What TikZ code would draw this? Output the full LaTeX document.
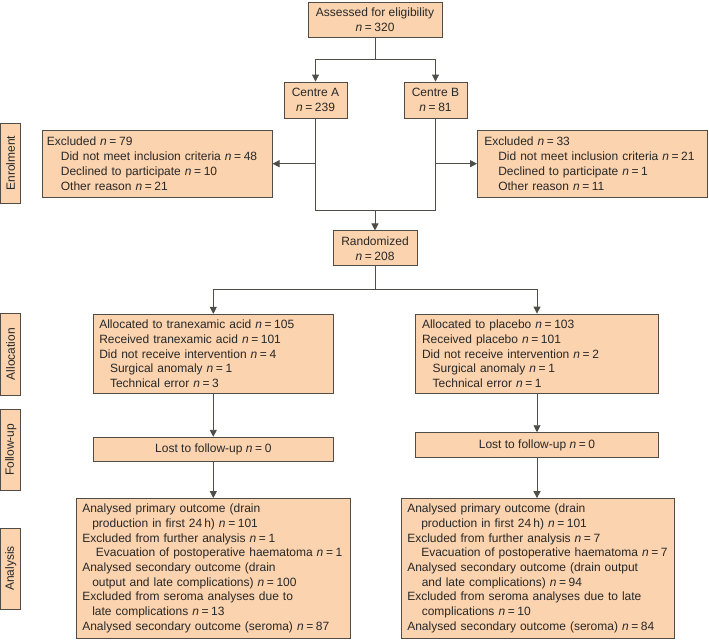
\documentclass[tikz,border=0pt]{standalone}
\usepackage{fontspec}
\setmainfont{Liberation Sans}
\usetikzlibrary{arrows.meta}
\definecolor{peach}{RGB}{251,211,174}
\definecolor{edgecol}{RGB}{80,76,72}
\definecolor{inkcol}{RGB}{40,40,40}
\newcommand{\nval}[1]{\textit{n}\hspace{2.6pt}=\hspace{2.6pt}#1}
\begin{document}
\begin{tikzpicture}[x=1pt,y=-1pt,
  box/.style={draw=edgecol, fill=peach, line width=0.9pt, text=inkcol, inner sep=0pt, font=\fontsize{12}{14.7}\selectfont},
  cbox/.style={box, align=center},
  lbox/.style={box, align=left},
  stage/.style={box, rotate=90, minimum height=20pt, align=center},
  conn/.style={draw=edgecol, line width=0.9pt},
  arr/.style={conn, -{Triangle[width=7pt,length=7pt]}}
]
\useasboundingbox (0,0) rectangle (709,640);

% stage labels
\node[stage, minimum width=80.7pt] (lEn) at (10.7,163.3) {Enrolment};
\node[stage, minimum width=82pt] (lAl) at (10.7,354) {Allocation};
\node[stage, minimum width=81.7pt] (lFu) at (10.7,449.8) {Follow-up};
\node[stage, minimum width=81pt] (lAn) at (10.7,568.5) {Analysis};

% enrolment
\node[cbox, minimum width=134pt, minimum height=35pt] (assess) at (375,19.5) {Assessed for eligibility\\\nval{320}};
\node[cbox, minimum width=63pt, minimum height=36pt] (cA) at (315.5,100) {Centre A\\\nval{239}};
\node[cbox, minimum width=63pt, minimum height=36pt] (cB) at (435.5,100) {Centre B\\\nval{81}};
\node[lbox, text width=220.7pt, inner xsep=4.5pt, minimum height=67.3pt] (exA) at (157.2,163.7)
 {Excluded \nval{79}\\
  \hspace*{14pt}Did not meet inclusion criteria \nval{48}\\
  \hspace*{14pt}Declined to participate \nval{10}\\
  \hspace*{14pt}Other reason \nval{21}};
\node[lbox, text width=216.4pt, inner xsep=6.8pt, minimum height=67.3pt] (exB) at (592.5,163.7)
 {Excluded \nval{33}\\
  \hspace*{14pt}Did not meet inclusion criteria \nval{21}\\
  \hspace*{14pt}Declined to participate \nval{1}\\
  \hspace*{14pt}Other reason \nval{11}};
\node[cbox, minimum width=84pt, minimum height=35pt] (rand) at (375,248.4) {Randomized\\\nval{208}};

% allocation
\node[lbox, text width=228pt, inner xsep=6pt, minimum height=79pt] (alA) at (213.3,353.8)
 {Allocated to tranexamic acid \nval{105}\\
  Received tranexamic acid \nval{101}\\
  Did not receive intervention \nval{4}\\
  \hspace*{10.7pt}Surgical anomaly \nval{1}\\
  \hspace*{10.7pt}Technical error \nval{3}};
\node[lbox, text width=230pt, inner xsep=6.3pt, minimum height=79.7pt] (alB) at (537,353.9)
 {Allocated to placebo \nval{103}\\
  Received placebo \nval{101}\\
  Did not receive intervention \nval{2}\\
  \hspace*{10.7pt}Surgical anomaly \nval{1}\\
  \hspace*{10.7pt}Technical error \nval{1}};

% follow-up
\node[cbox, minimum width=240pt, minimum height=24.5pt] (fuA) at (213.3,449.5) {Lost to follow-up \nval{0}};
\node[cbox, minimum width=242.6pt, minimum height=24.6pt] (fuB) at (537,445) {Lost to follow-up \nval{0}};

% analysis
\node[lbox, text width=262.1pt, inner xsep=5.6pt, minimum height=139.5pt] (anA) at (213.3,568.3)
 {Analysed primary outcome (drain\\
  \hspace*{10pt}production in first 24\,h) \nval{101}\\
  Excluded from further analysis \nval{1}\\
  \hspace*{13.7pt}Evacuation of postoperative haematoma \nval{1}\\
  Analysed secondary outcome (drain\\
  \hspace*{10pt}output and late complications) \nval{100}\\
  Excluded from seroma analyses due to\\
  \hspace*{10pt}late complications \nval{13}\\
  Analysed secondary outcome (seroma) \nval{87}};
\node[lbox, text width=260.7pt, inner xsep=6.3pt, minimum height=139.5pt] (anB) at (537.65,568.3)
 {Analysed primary outcome (drain\\
  \hspace*{14pt}production in first 24\,h) \nval{101}\\
  Excluded from further analysis \nval{7}\\
  \hspace*{14pt}Evacuation of postoperative haematoma \nval{7}\\
  Analysed secondary outcome (drain output\\
  \hspace*{14.5pt}and late complications) \nval{94}\\
  Excluded from seroma analyses due to late\\
  \hspace*{14.5pt}complications \nval{10}\\
  Analysed secondary outcome (seroma) \nval{84}};

% connectors
\coordinate (s1) at (375,59.3);
\draw[conn] (assess.south) -- (s1);
\draw[arr] (s1) -| (cA.north);
\draw[arr] (s1) -| (cB.north);
\coordinate (j1) at (375,210);
\draw[conn] (cA.south) |- (j1);
\draw[conn] (cB.south) |- (j1);
\draw[arr] (cA.south |- exA.east) -- (exA.east);
\draw[arr] (cB.south |- exB.west) -- (exB.west);
\draw[arr] (j1) -- (rand.north);
\coordinate (s2) at (375,289.3);
\draw[conn] (rand.south) -- (s2);
\draw[arr] (s2) -| (alA.north);
\draw[arr] (s2) -| (alB.north);
\draw[arr] (alA.south) -- (fuA.north);
\draw[arr] (alB.south) -- (fuB.north);
\draw[arr] (fuA.south) -- (fuA.south |- anA.north);
\draw[arr] (fuB.south) -- (fuB.south |- anB.north);
\end{tikzpicture}
\end{document}
